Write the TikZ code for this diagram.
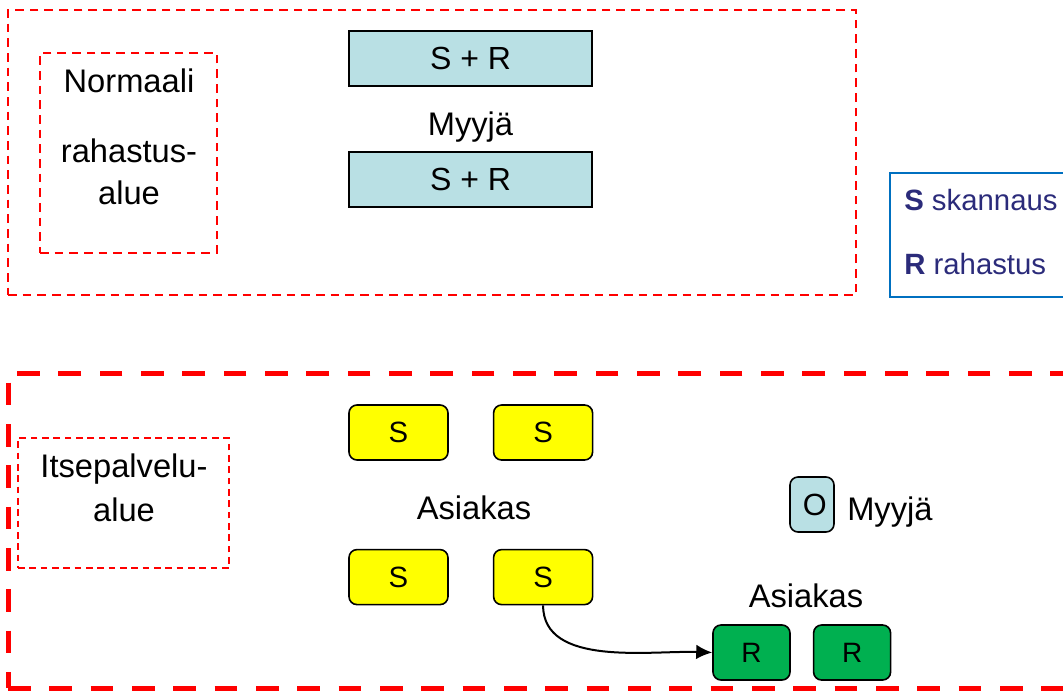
\documentclass[tikz,border=0pt]{standalone}
\usepackage{fontspec}
\setmainfont{Liberation Sans}
\usetikzlibrary{positioning,arrows.meta}
\definecolor{sellerblue}{HTML}{B9E0E4}
\definecolor{scanyellow}{HTML}{FFFF00}
\definecolor{paygreen}{HTML}{00B050}
\definecolor{legendblue}{HTML}{0070C0}
\definecolor{legendtext}{HTML}{2B2B7A}
\tikzset{
>={Latex[length=12pt,width=11pt]},
thick,
}

\begin{document}
\begin{tikzpicture}
        [x=0.75pt, y=-0.75pt,
        zone/.style={draw=red, line width=1.5pt, dash pattern=on 6.5pt off 4.5pt, minimum width=#1},
        bigzone/.style={draw=red, line width=3.75pt, dash pattern=on 17pt off 14pt},
        till/.style={draw, fill=sellerblue, line width=1.5pt, minimum width=182.25pt, minimum height=41.25pt, font=\fontsize{24}{28}\selectfont},
        scanbox/.style={draw, fill=scanyellow, rounded corners=6pt, line width=1.2pt, minimum width=74.25pt, minimum height=41.25pt, font=\fontsize{22}{26}\selectfont},
        paybox/.style={draw, fill=paygreen, rounded corners=6pt, line width=1.2pt, minimum width=57.75pt, minimum height=41.25pt, font=\fontsize{21}{25}\selectfont},
        areatext/.style={inner sep=0pt, anchor=base, font=\fontsize{24.5}{28}\selectfont}
        ]
        \useasboundingbox (0,0) rectangle (1063,693);

        % upper area
        \node [zone=636pt, minimum height=213.75pt] (normalzone) at (432,152.5) {};
        \node [zone=132.75pt, minimum height=150pt] (normalbox) at (128.5,153) {};
        \node [areatext] (normal1) at (129,92) {Normaali};
        \node [areatext] (normal2) at (129,162) {rahastus-};
        \node [areatext] (normal3) at (129,204) {alue};

        \node [till] (till1) at (470.5,58.5) {S + R};
        \node [till] (till2) at (470.5,179) {S + R};
        \node [areatext] (seller1) at (470.5,135) {Myyjä};

        % legend
        \node [draw=legendblue, line width=1.5pt, minimum width=135.75pt, minimum height=93pt] (legend) at (980,235) {};
        \node [inner sep=0pt, anchor=base west, text=legendtext, font=\fontsize{22}{26}\selectfont] (legendS) at (904,210) {\textbf{S} skannaus};
        \node [inner sep=0pt, anchor=base west, text=legendtext, font=\fontsize{22}{26}\selectfont] (legendR) at (904,274) {\textbf{R} rahastus};

        % self-service area
        \node [bigzone, minimum width=792.75pt, minimum height=236.25pt] (selfzone) at (536.5,530.5) {};
        \node [zone=158.25pt, minimum height=97.5pt, line width=1.2pt, dash pattern=on 5pt off 3.5pt] (selfbox) at (123.5,503) {};
        \node [areatext] (self1) at (124,477) {Itsepalvelu-};
        \node [areatext] (self2) at (124,521) {alue};

        \node [scanbox] (s1) at (398.5,432.5) {S};
        \node [scanbox] (s2) [right=33pt of s1] {S};
        \node [scanbox] (s3) [below=66pt of s1] {S};
        \node [scanbox] (s4) [right=33pt of s3] {S};
        \node [areatext] (customer1) at (474,519) {Asiakas};

        \node [draw, fill=sellerblue, rounded corners=6pt, line width=1.2pt, minimum width=33pt, minimum height=41.25pt, inner sep=0pt, font=\fontsize{23}{27}\selectfont] (o) at (812,504.5) {\hspace*{4pt}O};
        \node [areatext, anchor=base west] (seller2) at (847,520) {Myyjä};

        \node [paybox] (r1) at (751.5,652.5) {R};
        \node [paybox] (r2) [right=16.5pt of r1] {R};
        \node [areatext] (customer2) at (806,607) {Asiakas};

        \draw[->, line width=1.5pt] (s4.south) to[out=-90, in=178, looseness=0.9] (r1.west);
    \end{tikzpicture}
\end{document}
